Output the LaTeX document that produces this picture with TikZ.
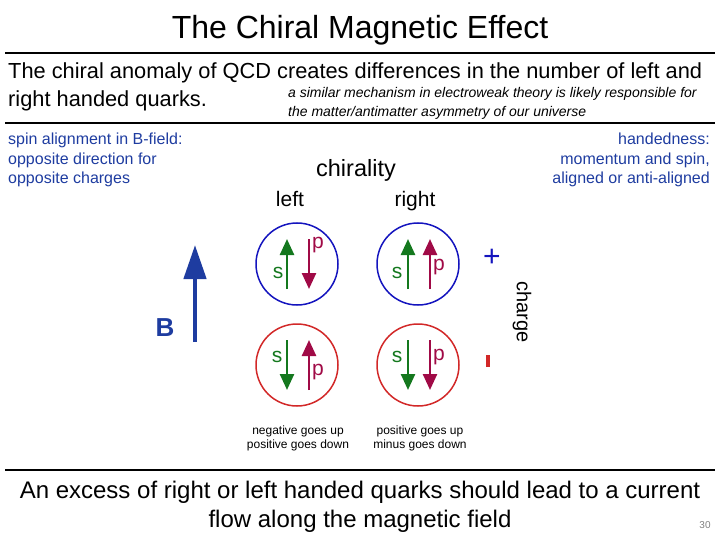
\documentclass[tikz,border=0pt]{standalone}
\usepackage{fontspec}
\setmainfont{Liberation Sans}
\usetikzlibrary{arrows.meta}
\definecolor{sg}{RGB}{20,120,30}
\definecolor{pr}{RGB}{160,10,70}
\definecolor{hb}{RGB}{30,60,160}
\definecolor{cb}{RGB}{20,20,190}
\definecolor{cr}{RGB}{210,40,40}
\begin{document}
\begin{tikzpicture}[x=1pt,y=-1pt,
  circ/.style={draw,line width=1.5pt,circle,minimum size=82pt,inner sep=0},
  sarr/.style={sg,line width=2.5pt,-{Triangle[length=16pt,width=14pt]}},
  parr/.style={pr,line width=2.5pt,-{Triangle[length=16pt,width=14pt]}},
  sl/.style={sg,font=\fontsize{21}{21}\selectfont,inner sep=0},
  pl/.style={pr,font=\fontsize{21}{21}\selectfont,inner sep=0},
  txt/.style={inner sep=0,align=left},
  blue14/.style={hb,font=\fontsize{16}{19.5}\selectfont,inner sep=0}]
\useasboundingbox (0,0) rectangle (720,540);
\node[inner sep=0,font=\fontsize{32}{32}\selectfont] (title) at (360,30) {The Chiral Magnetic Effect};
\draw[line width=2.5pt] (5,53) -- (715,53);
\node[txt,anchor=west,font=\fontsize{21.8}{24}\selectfont] (l1) at (8,73) {The chiral anomaly of QCD creates differences in the number of left and};
\node[txt,anchor=west,font=\fontsize{21.8}{24}\selectfont] (l2) at (8,101) {right handed quarks.};
\node[txt,anchor=west,font=\itshape\fontsize{14}{19}\selectfont] (l3) at (288,103) {a similar mechanism in electroweak theory is likely responsible for\\the matter/antimatter asymmetry of our universe};
\draw[line width=2pt] (5,123) -- (715,123);
\node[blue14,anchor=north west,align=left] (lb) at (8,133) {spin alignment in B-field:\\opposite direction for\\opposite charges};
\node[blue14,anchor=north east,align=right] (rb) at (710,133) {handedness:\\momentum and spin,\\aligned or anti-aligned};
\node[inner sep=0,font=\fontsize{23.5}{23.5}\selectfont] (chir) at (356,170) {chirality};
\node[inner sep=0,anchor=base,font=\fontsize{21}{21}\selectfont] (left) at (290,207) {left};
\node[inner sep=0,anchor=base,font=\fontsize{21}{21}\selectfont] (right) at (415,207) {right};
% B arrow
\coordinate (b0) at (195,342);
\coordinate (b1) at (195,245);
\draw[hb,line width=4.5pt,-{Triangle[length=34pt,width=22pt]}] (b0) -- (b1);
\node[hb,inner sep=0,font=\bfseries\fontsize{26}{26}\selectfont] (B) at (165,328) {B};
% circles
\node[circ,cb] (c1) at (297,264) {};
\node[circ,cb] (c2) at (418,264) {};
\node[circ,cr] (c3) at (297,365) {};
\node[circ,cr] (c4) at (418,365) {};
% top-left
\draw[sarr] ([xshift=-10pt,yshift=-25pt]c1.center) -- ([xshift=-10pt,yshift=25pt]c1.center);
\draw[parr] ([xshift=12pt,yshift=25pt]c1.center) -- ([xshift=12pt,yshift=-25pt]c1.center);
\node[sl] (s1) at (278,273) {s};
\node[pl] (p1) at (318,245) {p};
% top-right
\draw[sarr] ([xshift=-10pt,yshift=-25pt]c2.center) -- ([xshift=-10pt,yshift=25pt]c2.center);
\draw[parr] ([xshift=12pt,yshift=-25pt]c2.center) -- ([xshift=12pt,yshift=25pt]c2.center);
\node[sl] (s2) at (397,273) {s};
\node[pl] (p2) at (439,267) {p};
% bottom-left
\draw[sarr] ([xshift=-10pt,yshift=25pt]c3.center) -- ([xshift=-10pt,yshift=-25pt]c3.center);
\draw[parr] ([xshift=12pt,yshift=-25pt]c3.center) -- ([xshift=12pt,yshift=25pt]c3.center);
\node[sl] (s3) at (277,357) {s};
\node[pl] (p3) at (318,372) {p};
% bottom-right
\draw[sarr] ([xshift=-10pt,yshift=25pt]c4.center) -- ([xshift=-10pt,yshift=-25pt]c4.center);
\draw[parr] ([xshift=12pt,yshift=25pt]c4.center) -- ([xshift=12pt,yshift=-25pt]c4.center);
\node[sl] (s4) at (397,357) {s};
\node[pl] (p4) at (439,357) {p};
% charge
\node[cb,inner sep=0,font=\fontsize{30}{30}\selectfont] (plus) at (492,258) {+};
\node[cr,inner sep=0] (minus) at (488,361) {\rule{3.5pt}{12pt}};
\node[inner sep=0,rotate=-90,font=\fontsize{20}{20}\selectfont] (charge) at (522,312) {charge};
\node[inner sep=0,align=center,font=\fontsize{12}{14}\selectfont] (neg) at (298,438) {negative goes up\\positive goes down};
\node[inner sep=0,align=center,font=\fontsize{12}{14}\selectfont] (pos) at (420,438) {positive goes up\\minus goes down};
\draw[line width=2pt] (5,470) -- (715,470);
\node[inner sep=0,align=center,font=\fontsize{24}{29}\selectfont] (concl) at (360,507) {An excess of right or left handed quarks should lead to a current\\flow along the magnetic field};
\node[inner sep=0,gray,font=\fontsize{10}{10}\selectfont] (pg) at (705,525) {30};
\end{tikzpicture}
\end{document}
